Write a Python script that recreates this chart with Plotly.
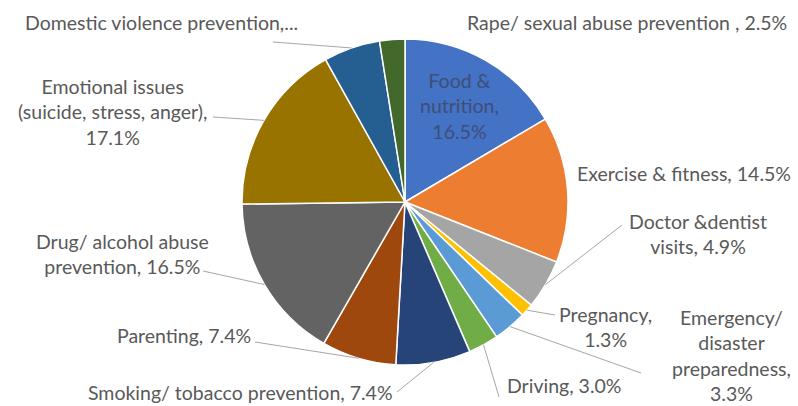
import math
import plotly.graph_objects as go

# Health topics (clockwise from 12 o'clock) and their shares in percent
categories = [
    "Food & nutrition", "Exercise & fitness", "Doctor & dentist visits", "Pregnancy",
    "Emergency/ disaster preparedness", "Driving", "Smoking/ tobacco prevention",
    "Parenting", "Drug/ alcohol abuse prevention", "Emotional issues",
    "Domestic violence prevention", "Rape/ sexual abuse prevention",
]
values = [16.5, 14.5, 4.9, 1.3, 3.3, 3.0, 7.4, 7.4, 16.5, 17.1, 5.6, 2.5]
colors = ["#4472C4", "#ED7D31", "#A5A5A5", "#FFC000", "#5B9BD5", "#70AD47",
          "#264478", "#9E480E", "#636363", "#997300", "#255E91", "#43682B"]

# Data label texts ({v} is replaced by the slice value)
label_texts = [
    "Food &<br>nutrition,<br>{v}%",
    "Exercise & fitness, {v}%",
    "Doctor &dentist<br>visits, {v}%",
    "Pregnancy,<br>{v}%",
    "Emergency/<br>disaster<br>preparedness,<br>{v}%",
    "Driving, {v}%",
    "Smoking/ tobacco prevention, {v}%",
    "Parenting, {v}%",
    "Drug/ alcohol abuse<br>prevention, {v}%",
    "Emotional issues<br>(suicide, stress, anger),<br>{v}%",
    "Domestic violence prevention,...",
    "Rape/ sexual abuse prevention , {v}%",
]
# Label centres in pixels (x, y from top)
label_pos = [(459, 106), (684, 173), (698, 234), (605, 327), (731, 355), (564, 385),
             (240, 392), (184, 335), (122, 254), (112, 112), (161, 22), (627, 22)]
# Label-side end of each leader line (None = no leader line)
leader_start = [None, None, (622, 225), (555, 315), (641, 373), (499, 397),
                (397, 392), (255, 342), (203, 271), (213, 117), (273, 42), None]

W, H = 798, 406
CX, CY, R = 405, 202, 163

fig = go.Figure(go.Pie(
    labels=categories, values=values, sort=False, direction="clockwise",
    rotation=0, textinfo="none", hoverinfo="label+percent",
    marker=dict(colors=colors, line=dict(color="white", width=1.5)),
    domain=dict(x=[(CX - R) / W, (CX + R) / W], y=[(H - CY - R) / H, (H - CY + R) / H]),
    showlegend=False,
))

total = sum(values)
cum = 0.0
shapes, annotations = [], []
for i, v in enumerate(values):
    mid = (cum + v / 2) / total * 2 * math.pi
    cum += v
    ex = CX + R * math.sin(mid)
    ey = CY - R * math.cos(mid)
    lx, ly = label_pos[i]
    color = "#3d4f78" if i == 0 else "#595959"
    annotations.append(dict(
        x=lx / W, y=1 - ly / H, xref="paper", yref="paper",
        text=label_texts[i].format(v=f"{v:.1f}"), showarrow=False,
        xanchor="center", yanchor="middle", align="center",
        font=dict(family="Lato", size=19.5, color=color),
    ))
    if leader_start[i] is not None:
        sx, sy = leader_start[i]
        shapes.append(dict(
            type="line", xref="paper", yref="paper",
            x0=sx / W, y0=1 - sy / H, x1=ex / W, y1=1 - ey / H,
            line=dict(color="#a6a6a6", width=1),
        ))

fig.update_layout(
    width=W, height=H, margin=dict(l=0, r=0, t=0, b=0),
    paper_bgcolor="white", plot_bgcolor="white",
    shapes=shapes, annotations=annotations,
)
fig.write_html("out.html")
